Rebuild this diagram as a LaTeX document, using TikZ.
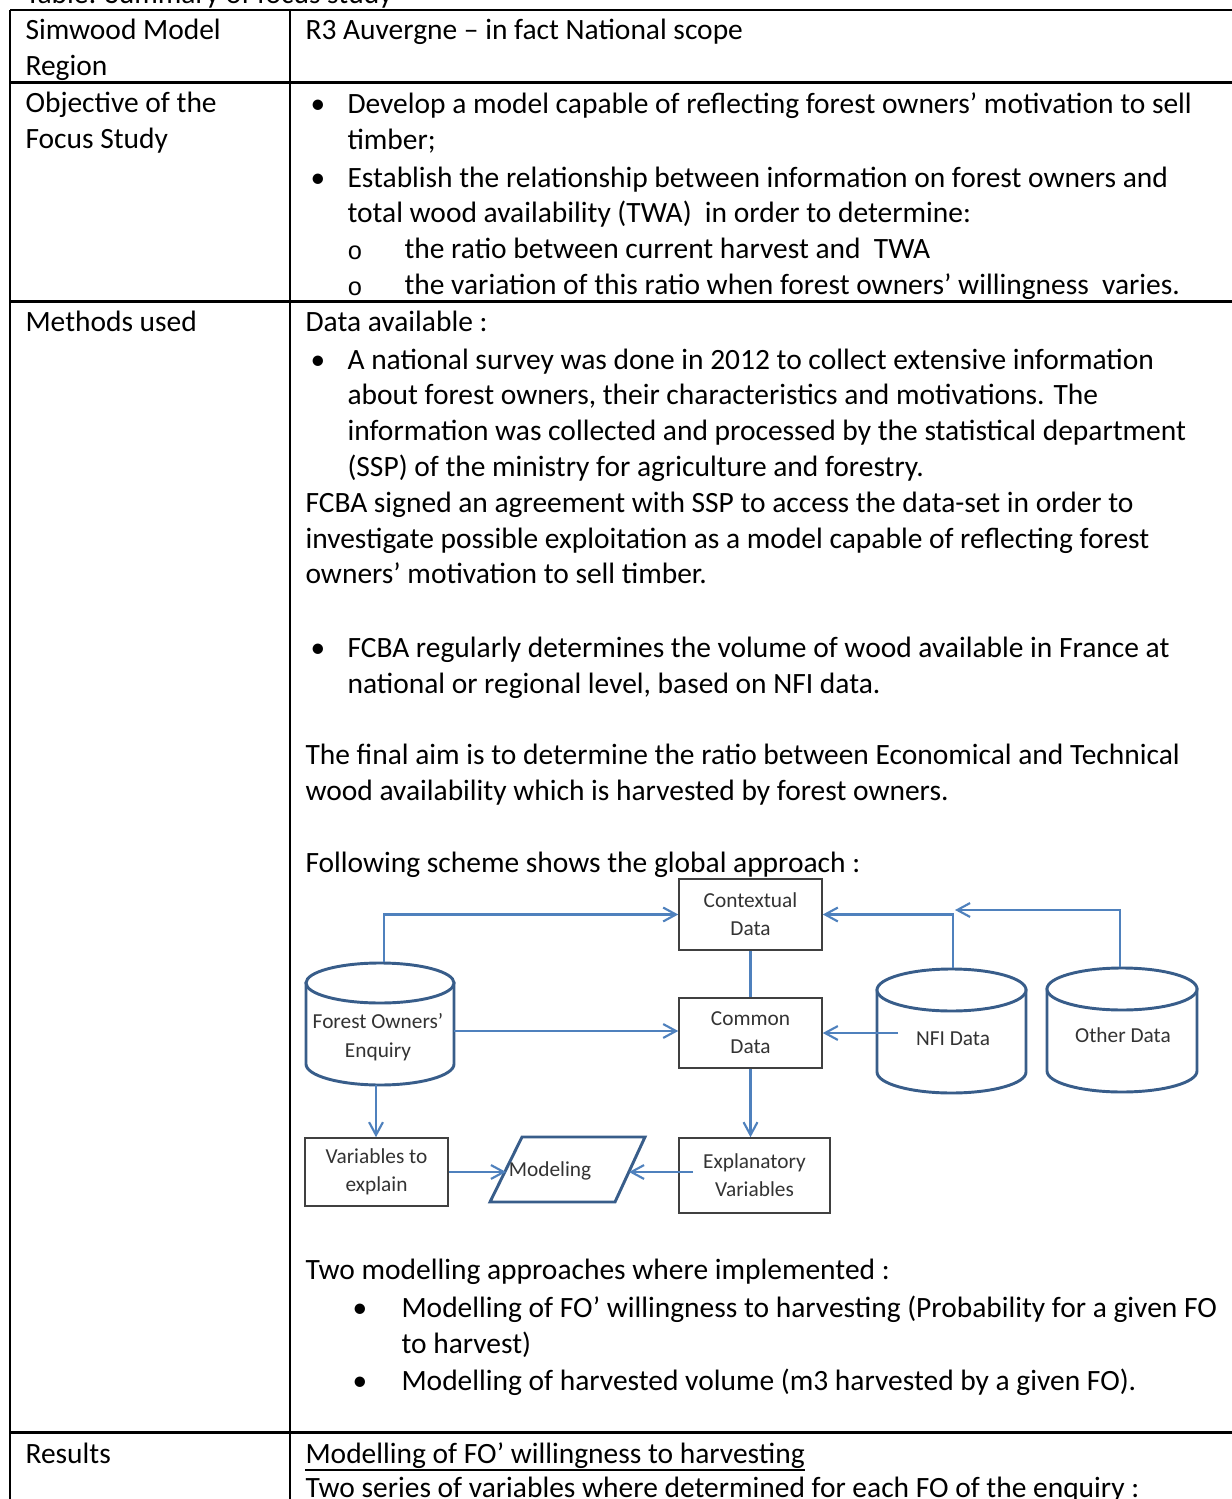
\documentclass[tikz,border=0pt]{standalone}
\usepackage{fontspec}
\setmainfont{Carlito}
\newfontfamily\monofont{Liberation Mono}
\usetikzlibrary{arrows.meta,calc}
\definecolor{connblue}{RGB}{79,129,189}
\definecolor{darkblue}{RGB}{56,93,138}
\definecolor{boxgray}{RGB}{64,64,64}
\definecolor{dtext}{RGB}{51,51,51}
\tikzset{
  tbl/.style={line width=1pt, black},
  txt/.style={anchor=base west, inner sep=0pt, yshift=-0.7pt, font=\fontsize{11.05}{13}\selectfont},
  bul/.style={anchor=base, inner sep=0pt, yshift=-0.7pt, font=\fontsize{11}{13}\selectfont},
  subbul/.style={anchor=base, inner sep=0pt, yshift=-0.7pt, font=\monofont\fontsize{9.5}{12}\selectfont},
  dbox/.style={draw=boxgray, line width=0.6pt, fill=white, rectangle, align=center,
    inner sep=0pt, text=dtext, font=\fontsize{8}{10.5}\selectfont},
  dtxt/.style={inner sep=0pt, align=center, text=dtext, font=\fontsize{8}{10.8}\selectfont},
  cyl/.style={draw=darkblue, line width=1.1pt, fill=white},
  conn/.style={draw=connblue, line width=0.8pt},
  arr/.style={conn, -{Straight Barb[length=4.8pt,width=5.2pt,line width=0.8pt]}}
}
\begin{document}
\begin{tikzpicture}[x=0.375pt,y=-0.375pt]
\useasboundingbox (0,0) rectangle (1231,1499);

% ---------- table rules ----------
\draw[tbl] (10,10) -- (1240,10);
\draw[tbl] (10,82.5) -- (1240,82.5);
\draw[tbl] (10,301.5) -- (1240,301.5);
\draw[tbl] (10,1432.5) -- (1240,1432.5);
\draw[tbl] (10,10) -- (10,1510);
\draw[tbl] (290,10) -- (290,1510);

% ---------- caption (cut off at top) ----------
\node[txt] (cap) at (25,2) {Table: Summary of focus study};

% ---------- left column ----------
\node[txt] (l1) at (25,38) {Simwood Model};
\node[txt] (l2) at (25,74) {Region};
\node[txt] (l3) at (25,111) {Objective of the};
\node[txt] (l4) at (25,147) {Focus Study};
\node[txt] (l5) at (25,330) {Methods used};
\node[txt] (l6) at (25,1462) {Results};

% ---------- row 1 ----------
\node[txt] (r1) at (305,38) {R3 Auvergne – in fact National scope};

% ---------- row 2 ----------
\node[bul] (b1) at (318,112) {•};
\node[txt] (r2a) at (347,112) {Develop a model capable of reflecting forest owners’ motivation to sell};
\node[txt] (r2b) at (347,148) {timber;};
\node[bul] (b2) at (318,186) {•};
\node[txt] (r2c) at (347,186) {Establish the relationship between information on forest owners and};
\node[txt] (r2d) at (347,221) {total wood availability (TWA)\ \ in order to determine:};
\node[subbul] (s1) at (355,258) {o};
\node[txt] (r2e) at (404,257) {the ratio between current harvest and\ \ TWA};
\node[subbul] (s2) at (355,294) {o};
\node[txt] (r2f) at (404,293) {the variation of this ratio when forest owners’ willingness\ \ varies.};

% ---------- row 3 ----------
\node[txt] (r3a) at (305,330) {Data available :};
\node[bul] (b3) at (318,368) {•};
\node[txt] (r3b) at (347,368) {A national survey was done in 2012 to collect extensive information};
\node[txt] (r3c) at (347,403) {about forest owners, their characteristics and motivations. The};
\node[txt] (r3d) at (347,439) {information was collected and processed by the statistical department};
\node[txt] (r3e) at (347,475) {(SSP) of the ministry for agriculture and forestry.};
\node[txt] (r3f) at (305,511) {FCBA signed an agreement with SSP to access the data-set in order to};
\node[txt] (r3g) at (305,547) {investigate possible exploitation as a model capable of reflecting forest};
\node[txt] (r3h) at (305,582) {owners’ motivation to sell timber.};
\node[bul] (b4) at (318,656) {•};
\node[txt] (r3i) at (347,656) {FCBA regularly determines the volume of wood available in France at};
\node[txt] (r3j) at (347,692) {national or regional level, based on NFI data.};
\node[txt] (r3k) at (305,763) {The final aim is to determine the ratio between Economical and Technical};
\node[txt] (r3l) at (305,799) {wood availability which is harvested by forest owners.};
\node[txt] (r3m) at (305,871) {Following scheme shows the global approach :};
\node[txt] (r3n) at (305,1278) {Two modelling approaches where implemented :};
\node[bul] (b5) at (360,1316) {•};
\node[txt] (r3o) at (401,1316) {Modelling of FO’ willingness to harvesting (Probability for a given FO};
\node[txt] (r3p) at (401,1352) {to harvest)};
\node[bul] (b6) at (360,1389) {•};
\node[txt] (r3q) at (401,1389) {Modelling of harvested volume (m3 harvested by a given FO).};

% ---------- row 4 ----------
\node[txt] (r4a) at (305,1462) {Modelling of FO’ willingness to harvesting};
\draw[line width=0.7pt] ([yshift=-2.2pt]r4a.base west) -- ([yshift=-2.2pt]r4a.base east);
\node[txt] (r4b) at (305,1496) {Two series of variables where determined for each FO of the enquiry :};

% ---------- diagram: cylinders ----------
% Forest Owners' Enquiry
\path[cyl] (306,983) -- (306,1064) arc[start angle=180,end angle=0,x radius=74,y radius=21] -- (454,983) -- cycle;
\draw[cyl] (380,983) ellipse [x radius=74, y radius=20];
\node[dtxt] (foe) at (378,1037) {Forest Owners’\\Enquiry};
\coordinate (foeTop) at (384,962);
\coordinate (foeR) at (454,1031);
\coordinate (foeBot) at (376,1085);

% NFI Data
\path[cyl] (877,990) -- (877,1072) arc[start angle=180,end angle=0,x radius=74.5,y radius=21] -- (1026,990) -- cycle;
\draw[cyl] (951.5,990) ellipse [x radius=74.5, y radius=21];
\node[dtxt] (nfi) at (953,1039) {NFI Data};
\coordinate (nfiTop) at (953,968);
\coordinate (nfiIn) at (898,1033);

% Other Data
\path[cyl] (1047,989) -- (1047,1071) arc[start angle=180,end angle=0,x radius=75,y radius=21] -- (1197,989) -- cycle;
\draw[cyl] (1122,989) ellipse [x radius=75, y radius=21];
\node[dtxt] (oth) at (1123,1035) {Other Data};
\coordinate (othTop) at (1120,967);
\coordinate (junc) at (955,910);

% ---------- diagram: boxes ----------
\node[dbox, minimum width=53.6pt, minimum height=26.6pt] (ctx) at (750.5,914.5) {Contextual\\Data};
\node[dbox, minimum width=53.6pt, minimum height=26.25pt] (com) at (750.5,1033) {Common\\Data};
\node[dbox, minimum width=56.6pt, minimum height=28.1pt] (expl) at (754.5,1175.5) {Explanatory\\Variables};
\node[dbox, minimum width=53.6pt, minimum height=25.5pt] (vte) at (376.5,1172) {Variables to\\explain};

% Modeling parallelogram
\coordinate (mTL) at (522,1137);
\coordinate (mTR) at (645,1137);
\coordinate (mBR) at (615,1202);
\coordinate (mBL) at (490,1202);
\draw[darkblue, line width=1.1pt, fill=white] (mTL) -- (mTR) -- (mBR) -- (mBL) -- cycle;
\node[dtxt] (mod) at (550,1171) {Modeling};
\coordinate (modL) at (506,1172);
\coordinate (modR) at (629,1172);
\coordinate (explIn) at (693,1172);

% ---------- connectors ----------
\draw[arr] (foeTop) |- (ctx.west);
\draw[arr] (foeR) -- (com.west |- foeR);
\draw[arr] (foeBot) -- (vte.north -| foeBot);
\draw[conn] (ctx.south) -- (com.north);
\draw[arr] (com.south) -- (com.south |- expl.north);
\draw[arr] (vte.east |- modL) -- (modL);
\draw[arr] (explIn) -- (modR);
\draw[arr] (nfiTop) |- (ctx.east);
\draw[arr] (othTop) |- (junc);
\draw[arr] (nfiIn) -- (com.east |- nfiIn);
\end{tikzpicture}
\end{document}
